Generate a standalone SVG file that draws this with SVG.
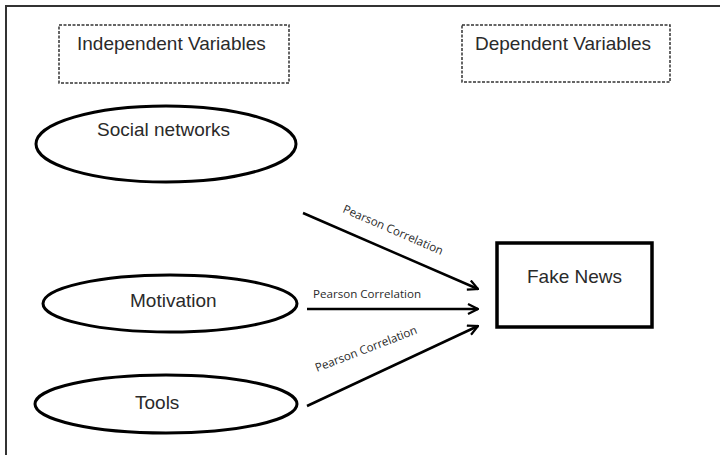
<svg xmlns="http://www.w3.org/2000/svg" width="720" height="455" viewBox="0 0 720 455">
<style>
.lbl{font-family:"Liberation Sans",Arial,sans-serif;font-size:19px;fill:#2a2a2a}
.rel{font-family:"Open Sans","Noto Sans",sans-serif;font-size:11.6px;fill:#2a2a2a}
.dash{fill:#fff;stroke:#333;stroke-width:1.5;stroke-dasharray:3 1.5}
.ell{fill:#fff;stroke:#000;stroke-width:3}
.conn{stroke:#000;stroke-width:2.5;fill:none;marker-end:url(#ah)}
</style>
<defs>
<marker id="ah" viewBox="0 0 12 12" refX="11" refY="6" markerWidth="12" markerHeight="12" markerUnits="userSpaceOnUse" orient="auto">
<path d="M1,1 L11,6 L1,11" fill="none" stroke="#000" stroke-width="2.2"/>
</marker>
</defs>
<rect width="720" height="455" fill="#fff"/>
<path d="M6,455 V6 H720" fill="none" stroke="#333" stroke-width="2"/>
<g id="independent">
<rect class="dash" x="59" y="25" width="230" height="58"/>
<text class="lbl" x="77" y="50">Independent Variables</text>
</g>
<g id="dependent">
<rect class="dash" x="462" y="25" width="208" height="57"/>
<text class="lbl" x="475" y="50">Dependent Variables</text>
</g>
<g id="social">
<ellipse class="ell" cx="166" cy="144" rx="130" ry="38"/>
<text class="lbl" x="97" y="136">Social networks</text>
</g>
<g id="motivation">
<ellipse class="ell" cx="170" cy="303.5" rx="127" ry="28.5"/>
<text class="lbl" x="130" y="307">Motivation</text>
</g>
<g id="tools">
<ellipse class="ell" cx="166" cy="404" rx="131" ry="29"/>
<text class="lbl" x="135" y="409">Tools</text>
</g>
<g id="fakenews">
<rect x="497" y="243" width="155" height="84" fill="#fff" stroke="#000" stroke-width="3.5"/>
<text class="lbl" x="527" y="283">Fake News</text>
</g>
<g id="connectors">
<line class="conn" x1="303" y1="213" x2="478" y2="289"/>
<line class="conn" x1="307" y1="309" x2="478" y2="309"/>
<line class="conn" x1="307" y1="406" x2="478" y2="326"/>
<text class="rel" transform="translate(342,212) rotate(23.5)">Pearson Correlation</text>
<text class="rel" x="313" y="298">Pearson Correlation</text>
<text class="rel" transform="translate(317,372) rotate(-21)">Pearson Correlation</text>
</g>
</svg>
